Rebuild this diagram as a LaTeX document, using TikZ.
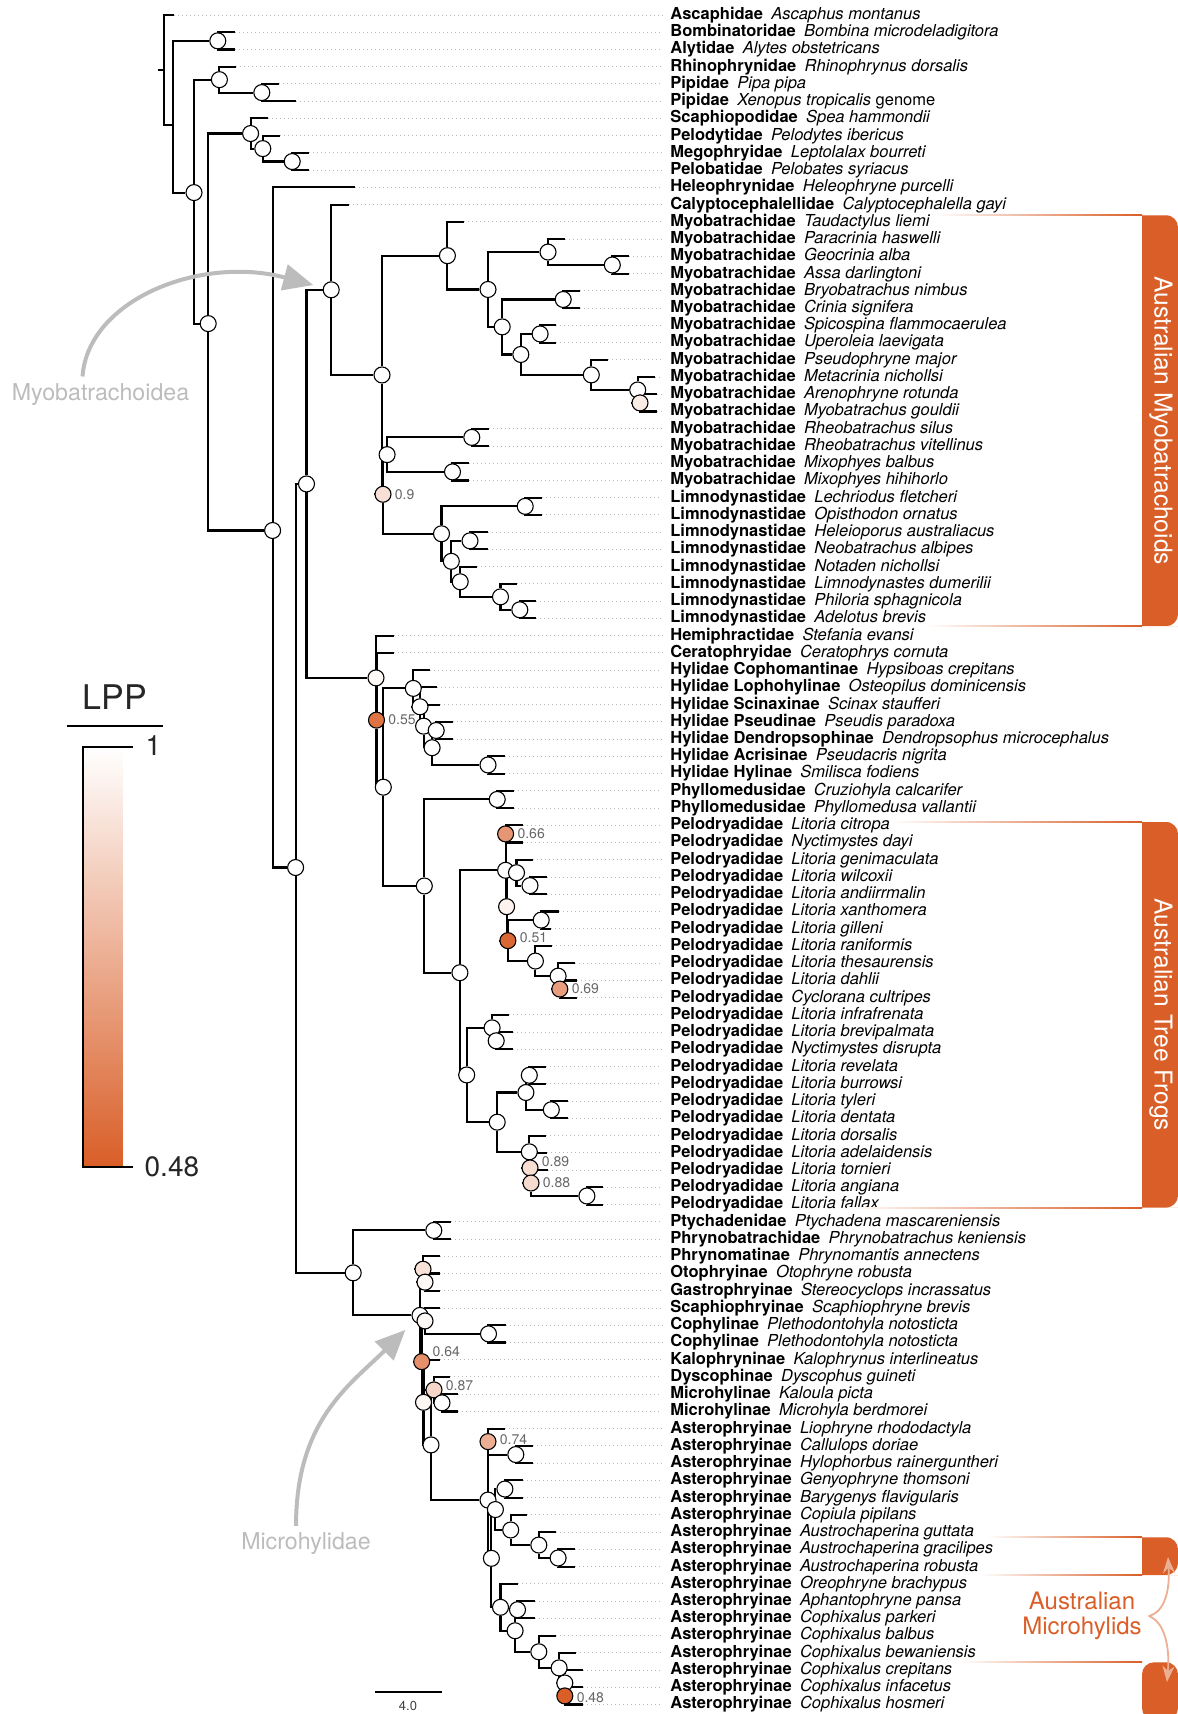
\documentclass[tikz,border=0pt]{standalone}
\usepackage{fontspec}
\setmainfont{TeX Gyre Heros}
\usetikzlibrary{positioning, backgrounds, arrows.meta}
\definecolor{lppc}{RGB}{217,94,39}
\definecolor{anngray}{RGB}{188,188,188}

\begin{document}
\begin{tikzpicture}[x=0.5pt, y=-0.5pt,
	bnode/.style={draw, circle, fill=white, inner sep=0pt, minimum size=8pt, line width=0.55pt},
	branch/.style={line width=1.05pt},
	taxon/.style={anchor=west, inner xsep=4pt, inner ysep=0pt, text height=6pt, text depth=1.6pt, font=\fontsize{8.25}{9}\selectfont},
	leader/.style={draw=black!28, line width=0.5pt, dash pattern=on 0.5pt off 1.5pt},
	lppnum/.style={inner sep=0.5pt, text=black!60, font=\fontsize{7}{8}\selectfont},
	callout/.style={draw=anngray, line width=2pt, -{Triangle[length=15pt,width=13pt]}},
	bracearrow/.style={draw=lppc!50!white, line width=0.9pt, -{Stealth[length=8pt,width=6pt]}},
	grouplab/.style={text=white, font=\fontsize{12.3}{14}\selectfont}]
	\useasboundingbox (0,0) rectangle (1178,1714);

	\begin{scope}[y=-8.62pt, yshift=1.12pt]
	\coordinate (e1) at (173.7,1); \node[taxon] (t1) at (662,1) {\textbf{Ascaphidae}\enspace\textit{Ascaphus montanus}};
	\coordinate (e2) at (235.3,2); \node[taxon] (t2) at (662,2) {\textbf{Bombinatoridae}\enspace\textit{Bombina microdeladigitora}};
	\coordinate (e3) at (235.3,3); \node[taxon] (t3) at (662,3) {\textbf{Alytidae}\enspace\textit{Alytes obstetricans}};
	\coordinate (e4) at (236.4,4); \node[taxon] (t4) at (662,4) {\textbf{Rhinophrynidae}\enspace\textit{Rhinophrynus dorsalis}};
	\coordinate (e5) at (278.7,5); \node[taxon] (t5) at (662,5) {\textbf{Pipidae}\enspace\textit{Pipa pipa}};
	\coordinate (e6) at (295.6,6); \node[taxon] (t6) at (662,6) {\textbf{Pipidae}\enspace\textit{Xenopus tropicalis} genome};
	\coordinate (e7) at (267.9,7); \node[taxon] (t7) at (662,7) {\textbf{Scaphiopodidae}\enspace\textit{Spea hammondii}};
	\coordinate (e8) at (279.7,8); \node[taxon] (t8) at (662,8) {\textbf{Pelodytidae}\enspace\textit{Pelodytes ibericus}};
	\coordinate (e9) at (309.2,9); \node[taxon] (t9) at (662,9) {\textbf{Megophryidae}\enspace\textit{Leptolalax bourreti}};
	\coordinate (e10) at (309.2,10); \node[taxon] (t10) at (662,10) {\textbf{Pelobatidae}\enspace\textit{Pelobates syriacus}};
	\coordinate (e11) at (354.9,11); \node[taxon] (t11) at (662,11) {\textbf{Heleophrynidae}\enspace\textit{Heleophryne purcelli}};
	\coordinate (e12) at (349.1,12); \node[taxon] (t12) at (662,12) {\textbf{Calyptocephalellidae}\enspace\textit{Calyptocephalella gayi}};
	\coordinate (e13) at (464.2,13); \node[taxon] (t13) at (662,13) {\textbf{Myobatrachidae}\enspace\textit{Taudactylus liemi}};
	\coordinate (e14) at (564.8,14); \node[taxon] (t14) at (662,14) {\textbf{Myobatrachidae}\enspace\textit{Paracrinia haswelli}};
	\coordinate (e15) at (629.2,15); \node[taxon] (t15) at (662,15) {\textbf{Myobatrachidae}\enspace\textit{Geocrinia alba}};
	\coordinate (e16) at (629.2,16); \node[taxon] (t16) at (662,16) {\textbf{Myobatrachidae}\enspace\textit{Assa darlingtoni}};
	\coordinate (e17) at (580.1,17); \node[taxon] (t17) at (662,17) {\textbf{Myobatrachidae}\enspace\textit{Bryobatrachus nimbus}};
	\coordinate (e18) at (580.1,18); \node[taxon] (t18) at (662,18) {\textbf{Myobatrachidae}\enspace\textit{Crinia signifera}};
	\coordinate (e19) at (556.4,19); \node[taxon] (t19) at (662,19) {\textbf{Myobatrachidae}\enspace\textit{Spicospina flammocaerulea}};
	\coordinate (e20) at (556.4,20); \node[taxon] (t20) at (662,20) {\textbf{Myobatrachidae}\enspace\textit{Uperoleia laevigata}};
	\coordinate (e21) at (607.9,21); \node[taxon] (t21) at (662,21) {\textbf{Myobatrachidae}\enspace\textit{Pseudophryne major}};
	\coordinate (e22) at (655.3,22); \node[taxon] (t22) at (662,22) {\textbf{Myobatrachidae}\enspace\textit{Metacrinia nichollsi}};
	\coordinate (e23) at (657.3,23); \node[taxon] (t23) at (662,23) {\textbf{Myobatrachidae}\enspace\textit{Arenophryne rotunda}};
	\coordinate (e24) at (657.3,24); \node[taxon] (t24) at (662,24) {\textbf{Myobatrachidae}\enspace\textit{Myobatrachus gouldii}};
	\coordinate (e25) at (488.6,25); \node[taxon] (t25) at (662,25) {\textbf{Myobatrachidae}\enspace\textit{Rheobatrachus silus}};
	\coordinate (e26) at (488.6,26); \node[taxon] (t26) at (662,26) {\textbf{Myobatrachidae}\enspace\textit{Rheobatrachus vitellinus}};
	\coordinate (e27) at (469.2,27); \node[taxon] (t27) at (662,27) {\textbf{Myobatrachidae}\enspace\textit{Mixophyes balbus}};
	\coordinate (e28) at (469.2,28); \node[taxon] (t28) at (662,28) {\textbf{Myobatrachidae}\enspace\textit{Mixophyes hihihorlo}};
	\coordinate (e29) at (542.2,29); \node[taxon] (t29) at (662,29) {\textbf{Limnodynastidae}\enspace\textit{Lechriodus fletcheri}};
	\coordinate (e30) at (542.2,30); \node[taxon] (t30) at (662,30) {\textbf{Limnodynastidae}\enspace\textit{Opisthodon ornatus}};
	\coordinate (e31) at (488,31); \node[taxon] (t31) at (662,31) {\textbf{Limnodynastidae}\enspace\textit{Heleioporus australiacus}};
	\coordinate (e32) at (488,32); \node[taxon] (t32) at (662,32) {\textbf{Limnodynastidae}\enspace\textit{Neobatrachus albipes}};
	\coordinate (e33) at (476.9,33); \node[taxon] (t33) at (662,33) {\textbf{Limnodynastidae}\enspace\textit{Notaden nichollsi}};
	\coordinate (e34) at (516.8,34); \node[taxon] (t34) at (662,34) {\textbf{Limnodynastidae}\enspace\textit{Limnodynastes dumerilii}};
	\coordinate (e35) at (536.1,35); \node[taxon] (t35) at (662,35) {\textbf{Limnodynastidae}\enspace\textit{Philoria sphagnicola}};
	\coordinate (e36) at (536.1,36); \node[taxon] (t36) at (662,36) {\textbf{Limnodynastidae}\enspace\textit{Adelotus brevis}};
	\coordinate (e37) at (393.8,37); \node[taxon] (t37) at (662,37) {\textbf{Hemiphractidae}\enspace\textit{Stefania evansi}};
	\coordinate (e38) at (393.8,38); \node[taxon] (t38) at (662,38) {\textbf{Ceratophryidae}\enspace\textit{Ceratophrys cornuta}};
	\coordinate (e39) at (430.2,39); \node[taxon] (t39) at (662,39) {\textbf{Hylidae Cophomantinae}\enspace\textit{Hypsiboas crepitans}};
	\coordinate (e40) at (437,40); \node[taxon] (t40) at (662,40) {\textbf{Hylidae Lophohylinae}\enspace\textit{Osteopilus dominicensis}};
	\coordinate (e41) at (439.6,41); \node[taxon] (t41) at (662,41) {\textbf{Hylidae Scinaxinae}\enspace\textit{Scinax staufferi}};
	\coordinate (e42) at (452.5,42); \node[taxon] (t42) at (662,42) {\textbf{Hylidae Pseudinae}\enspace\textit{Pseudis paradoxa}};
	\coordinate (e43) at (452.5,43); \node[taxon] (t43) at (662,43) {\textbf{Hylidae Dendropsophinae}\enspace\textit{Dendropsophus microcephalus}};
	\coordinate (e44) at (504.9,44); \node[taxon] (t44) at (662,44) {\textbf{Hylidae Acrisinae}\enspace\textit{Pseudacris nigrita}};
	\coordinate (e45) at (504.9,45); \node[taxon] (t45) at (662,45) {\textbf{Hylidae Hylinae}\enspace\textit{Smilisca fodiens}};
	\coordinate (e46) at (514,46); \node[taxon] (t46) at (662,46) {\textbf{Phyllomedusidae}\enspace\textit{Cruziohyla calcarifer}};
	\coordinate (e47) at (514,47); \node[taxon] (t47) at (662,47) {\textbf{Phyllomedusidae}\enspace\textit{Phyllomedusa vallantii}};
	\coordinate (e48) at (523.2,48); \node[taxon] (t48) at (662,48) {\textbf{Pelodryadidae}\enspace\textit{Litoria citropa}};
	\coordinate (e49) at (523.2,49); \node[taxon] (t49) at (662,49) {\textbf{Pelodryadidae}\enspace\textit{Nyctimystes dayi}};
	\coordinate (e50) at (532.7,50); \node[taxon] (t50) at (662,50) {\textbf{Pelodryadidae}\enspace\textit{Litoria genimaculata}};
	\coordinate (e51) at (546.9,51); \node[taxon] (t51) at (662,51) {\textbf{Pelodryadidae}\enspace\textit{Litoria wilcoxii}};
	\coordinate (e52) at (546.9,52); \node[taxon] (t52) at (662,52) {\textbf{Pelodryadidae}\enspace\textit{Litoria andiirrmalin}};
	\coordinate (e53) at (558.9,53); \node[taxon] (t53) at (662,53) {\textbf{Pelodryadidae}\enspace\textit{Litoria xanthomera}};
	\coordinate (e54) at (551,54); \node[taxon] (t54) at (662,54) {\textbf{Pelodryadidae}\enspace\textit{Litoria gilleni}};
	\coordinate (e55) at (552.3,55); \node[taxon] (t55) at (662,55) {\textbf{Pelodryadidae}\enspace\textit{Litoria raniformis}};
	\coordinate (e56) at (575,56); \node[taxon] (t56) at (662,56) {\textbf{Pelodryadidae}\enspace\textit{Litoria thesaurensis}};
	\coordinate (e57) at (576.6,57); \node[taxon] (t57) at (662,57) {\textbf{Pelodryadidae}\enspace\textit{Litoria dahlii}};
	\coordinate (e58) at (576.6,58); \node[taxon] (t58) at (662,58) {\textbf{Pelodryadidae}\enspace\textit{Cyclorana cultripes}};
	\coordinate (e59) at (509,59); \node[taxon] (t59) at (662,59) {\textbf{Pelodryadidae}\enspace\textit{Litoria infrafrenata}};
	\coordinate (e60) at (513.1,60); \node[taxon] (t60) at (662,60) {\textbf{Pelodryadidae}\enspace\textit{Litoria brevipalmata}};
	\coordinate (e61) at (513.1,61); \node[taxon] (t61) at (662,61) {\textbf{Pelodryadidae}\enspace\textit{Nyctimystes disrupta}};
	\coordinate (e62) at (546.2,62); \node[taxon] (t62) at (662,62) {\textbf{Pelodryadidae}\enspace\textit{Litoria revelata}};
	\coordinate (e63) at (546.2,63); \node[taxon] (t63) at (662,63) {\textbf{Pelodryadidae}\enspace\textit{Litoria burrowsi}};
	\coordinate (e64) at (568.3,64); \node[taxon] (t64) at (662,64) {\textbf{Pelodryadidae}\enspace\textit{Litoria tyleri}};
	\coordinate (e65) at (568.3,65); \node[taxon] (t65) at (662,65) {\textbf{Pelodryadidae}\enspace\textit{Litoria dentata}};
	\coordinate (e66) at (546.2,66); \node[taxon] (t66) at (662,66) {\textbf{Pelodryadidae}\enspace\textit{Litoria dorsalis}};
	\coordinate (e67) at (546.9,67); \node[taxon] (t67) at (662,67) {\textbf{Pelodryadidae}\enspace\textit{Litoria adelaidensis}};
	\coordinate (e68) at (548,68); \node[taxon] (t68) at (662,68) {\textbf{Pelodryadidae}\enspace\textit{Litoria tornieri}};
	\coordinate (e69) at (603.1,69); \node[taxon] (t69) at (662,69) {\textbf{Pelodryadidae}\enspace\textit{Litoria angiana}};
	\coordinate (e70) at (603.1,70); \node[taxon] (t70) at (662,70) {\textbf{Pelodryadidae}\enspace\textit{Litoria fallax}};
	\coordinate (e71) at (450.7,71); \node[taxon] (t71) at (662,71) {\textbf{Ptychadenidae}\enspace\textit{Ptychadena mascareniensis}};
	\coordinate (e72) at (450.7,72); \node[taxon] (t72) at (662,72) {\textbf{Phrynobatrachidae}\enspace\textit{Phrynobatrachus keniensis}};
	\coordinate (e73) at (440,73); \node[taxon] (t73) at (662,73) {\textbf{Phrynomatinae}\enspace\textit{Phrynomantis annectens}};
	\coordinate (e74) at (440,74); \node[taxon] (t74) at (662,74) {\textbf{Otophryinae}\enspace\textit{Otophryne robusta}};
	\coordinate (e75) at (440,75); \node[taxon] (t75) at (662,75) {\textbf{Gastrophryinae}\enspace\textit{Stereocyclops incrassatus}};
	\coordinate (e76) at (440,76); \node[taxon] (t76) at (662,76) {\textbf{Scaphiophryinae}\enspace\textit{Scaphiophryne brevis}};
	\coordinate (e77) at (505.6,77); \node[taxon] (t77) at (662,77) {\textbf{Cophylinae}\enspace\textit{Plethodontohyla notosticta}};
	\coordinate (e78) at (505.6,78); \node[taxon] (t78) at (662,78) {\textbf{Cophylinae}\enspace\textit{Plethodontohyla notosticta}};
	\coordinate (e79) at (440,79); \node[taxon] (t79) at (662,79) {\textbf{Kalophryninae}\enspace\textit{Kalophrynus interlineatus}};
	\coordinate (e80) at (450,80); \node[taxon] (t80) at (662,80) {\textbf{Dyscophinae}\enspace\textit{Dyscophus guineti}};
	\coordinate (e81) at (458,81); \node[taxon] (t81) at (662,81) {\textbf{Microhylinae}\enspace\textit{Kaloula picta}};
	\coordinate (e82) at (458,82); \node[taxon] (t82) at (662,82) {\textbf{Microhylinae}\enspace\textit{Microhyla berdmorei}};
	\coordinate (e83) at (504.9,83); \node[taxon] (t83) at (662,83) {\textbf{Asterophryinae}\enspace\textit{Liophryne rhododactyla}};
	\coordinate (e84) at (533.3,84); \node[taxon] (t84) at (662,84) {\textbf{Asterophryinae}\enspace\textit{Callulops doriae}};
	\coordinate (e85) at (533.3,85); \node[taxon] (t85) at (662,85) {\textbf{Asterophryinae}\enspace\textit{Hylophorbus rainerguntheri}};
	\coordinate (e86) at (522.7,86); \node[taxon] (t86) at (662,86) {\textbf{Asterophryinae}\enspace\textit{Genyophryne thomsoni}};
	\coordinate (e87) at (522.7,87); \node[taxon] (t87) at (662,87) {\textbf{Asterophryinae}\enspace\textit{Barygenys flavigularis}};
	\coordinate (e88) at (526.6,88); \node[taxon] (t88) at (662,88) {\textbf{Asterophryinae}\enspace\textit{Copiula pipilans}};
	\coordinate (e89) at (555.7,89); \node[taxon] (t89) at (662,89) {\textbf{Asterophryinae}\enspace\textit{Austrochaperina guttata}};
	\coordinate (e90) at (574.9,90); \node[taxon] (t90) at (662,90) {\textbf{Asterophryinae}\enspace\textit{Austrochaperina gracilipes}};
	\coordinate (e91) at (574.9,91); \node[taxon] (t91) at (662,91) {\textbf{Asterophryinae}\enspace\textit{Austrochaperina robusta}};
	\coordinate (e92) at (517.5,92); \node[taxon] (t92) at (662,92) {\textbf{Asterophryinae}\enspace\textit{Oreophryne brachypus}};
	\coordinate (e93) at (535.4,93); \node[taxon] (t93) at (662,93) {\textbf{Asterophryinae}\enspace\textit{Aphantophryne pansa}};
	\coordinate (e94) at (535.4,94); \node[taxon] (t94) at (662,94) {\textbf{Asterophryinae}\enspace\textit{Cophixalus parkeri}};
	\coordinate (e95) at (555.7,95); \node[taxon] (t95) at (662,95) {\textbf{Asterophryinae}\enspace\textit{Cophixalus balbus}};
	\coordinate (e96) at (576,96); \node[taxon] (t96) at (662,96) {\textbf{Asterophryinae}\enspace\textit{Cophixalus bewaniensis}};
	\coordinate (e97) at (582.8,97); \node[taxon] (t97) at (662,97) {\textbf{Asterophryinae}\enspace\textit{Cophixalus crepitans}};
	\coordinate (e98) at (582.8,98); \node[taxon] (t98) at (662,98) {\textbf{Asterophryinae}\enspace\textit{Cophixalus infacetus}};
	\coordinate (e99) at (582.8,99); \node[taxon] (t99) at (662,99) {\textbf{Asterophryinae}\enspace\textit{Cophixalus hosmeri}};

	\coordinate (stem) at (158,4.2);
	\coordinate (r0) at (164.2,4.2);
	\coordinate (n1) at (172.7,7.4);
	\node[bnode] (n2) at (217.8,2.5) {};
	\node[bnode] (n3) at (194,11.3) {};
	\node[bnode] (n4) at (219.4,4.75) {};
	\node[bnode] (n8) at (261.8,5.5) {};
	\node[bnode] (n5) at (208.2,18.9) {};
	\node[bnode] (n6) at (250.6,7.875) {};
	\node[bnode] (n9) at (262.8,8.75) {};
	\node[bnode] (n10) at (292.2,9.5) {};
	\node[bnode] (n7) at (272.6,30.9) {};
	\node[bnode] (nnb) at (295.6,50.45) {};
	\node[bnode] (np) at (306.5,28.2) {};
	\node[bnode] (nm) at (331.2,16.94) {};
	\node[bnode] (nmy) at (382,21.88) {};
	\node[bnode] (nmyo) at (447.4,14.96) {};
	\node[bnode] (nmb) at (488,16.92) {};
	\node[bnode] (nc) at (548,14.75) {};
	\node[bnode] (ne) at (612.3,15.5) {};
	\node[bnode] (nd) at (502.2,19.09) {};
	\node[bnode] (nf) at (563.2,17.5) {};
	\node[bnode] (ng) at (520.8,20.69) {};
	\node[bnode] (nh) at (540.1,19.5) {};
	\node[bnode] (ni) at (591.3,21.875) {};
	\node[bnode] (nj) at (637.7,22.75) {};
	\node[bnode, fill=lppc!12!white] (nk) at (640,23.5) {};
	\node[bnode, fill=lppc!19!white] (n09) at (383,28.8) {};
	\node[lppnum, right=1pt of n09] (l09) {0.9};
	\node[bnode] (nrm) at (387.1,26.5) {};
	\node[bnode] (nrheo) at (471.8,25.5) {};
	\node[bnode] (nmix) at (452.5,27.5) {};
	\node[bnode] (nlim) at (441.5,31.09) {};
	\node[bnode] (nlech) at (525.2,29.5) {};
	\node[bnode] (nl) at (451.3,32.69) {};
	\node[bnode] (nn) at (470,31.5) {};
	\node[bnode] (no) at (460.2,33.875) {};
	\node[bnode] (nq) at (500.5,34.75) {};
	\node[bnode] (nr) at (519.8,35.5) {};

	\node[bnode, fill=lppc!4!white] (nhyl) at (376,39.45) {};
	\node[bnode, fill=lppc!87!white] (n055) at (376.5,41.9) {};
	\node[lppnum, right=1pt of n055] (l055) {0.55};
	\node[bnode] (nhp) at (383.3,45.79) {};
	\node[bnode] (ha) at (413.3,40.06) {};
	\node[bnode] (hb) at (420,41.125) {};
	\node[bnode] (hc) at (423.6,42.25) {};
	\node[bnode] (he) at (432.1,43.5) {};
	\node[bnode] (hf) at (436.2,42.5) {};
	\node[bnode] (hg) at (488,44.5) {};
	\node[bnode] (hh) at (424.3,51.52) {};
	\node[bnode] (phyl) at (497.2,46.5) {};
	\node[bnode] (pelo) at (459.9,56.55) {};
	\node[bnode] (p1) at (505.6,50.61) {};
	\node[bnode, fill=lppc!65!white] (n066) at (505.6,48.5) {};
	\node[lppnum, right=1pt of n066] (l066) {0.66};
	\node[bnode, fill=lppc!8!white] (pq) at (506.6,52.72) {};
	\node[bnode] (pr) at (516.5,50.75) {};
	\node[bnode] (ps) at (530,51.5) {};
	\node[bnode, fill=lppc!94!white] (n051) at (507.9,54.69) {};
	\node[lppnum, right=1pt of n051, yshift=1.5pt] (l051) {0.51};
	\node[bnode] (pt) at (541.2,53.5) {};
	\node[bnode] (pu) at (535.4,55.875) {};
	\node[bnode] (pv) at (558.1,56.75) {};
	\node[bnode, fill=lppc!60!white] (n069) at (559.8,57.5) {};
	\node[lppnum, right=1pt of n069] (l069) {0.69};
	\node[bnode] (p2) at (466.7,62.48) {};
	\node[bnode] (pa) at (492.1,59.75) {};
	\node[bnode] (pc) at (496.2,60.5) {};
	\node[bnode] (pb) at (497.2,65.22) {};
	\node[bnode] (pd) at (525.9,63.5) {};
	\node[bnode] (pf) at (529.3,62.5) {};
	\node[bnode] (pg) at (551.3,64.5) {};
	\node[bnode] (pe) at (529.3,66.94) {};
	\node[bnode, fill=lppc!21!white] (n089) at (530,67.875) {};
	\node[lppnum, right=1pt of n089, yshift=3pt] (l089) {0.89};
	\node[bnode, fill=lppc!23!white] (n088) at (531,68.75) {};
	\node[lppnum, right=1pt of n088] (l088) {0.88};
	\node[bnode] (ph) at (586.9,69.5) {};

	\node[bnode] (nran) at (353.2,73.96) {};
	\node[bnode] (pp) at (433.8,71.5) {};
	\node[bnode] (ma) at (420,76.43) {};
	\node[bnode, fill=lppc!18!white] (pz) at (423,73.75) {};
	\node[bnode, fill=lppc!4!white] (wt) at (425,74.5) {};
	\node[bnode, fill=lppc!4!white] (mc) at (425,76.75) {};
	\node[bnode] (c1) at (488.5,77.5) {};
	\node[bnode, fill=lppc!69!white] (k64) at (421.7,79.11) {};
	\node[lppnum, right=0.5pt of k64, yshift=5pt] (l064) {0.64};
	\node[bnode, fill=lppc!5!white] (wk) at (423.5,81.47) {};
	\node[bnode] (my) at (431,83.94) {};
	\node[bnode, fill=lppc!25!white] (n087) at (434,80.75) {};
	\node[lppnum, right=1pt of n087, yshift=2pt] (l087) {0.87};
	\node[bnode] (mi) at (442,81.5) {};
	\node[bnode] (as) at (488,87.14) {};
	\node[bnode, fill=lppc!50!white] (n074) at (488,83.75) {};
	\node[lppnum, right=1pt of n074, yshift=1pt] (l074) {0.74};
	\node[bnode] (ab) at (515.8,84.5) {};
	\node[bnode] (as2) at (491.4,90.52) {};
	\node[bnode] (ac) at (495.4,87.69) {};
	\node[bnode] (ae) at (504.9,86.5) {};
	\node[bnode] (af) at (510.7,88.875) {};
	\node[bnode] (ag) at (538.8,89.75) {};
	\node[bnode] (ah) at (558.1,90.5) {};
	\node[bnode] (ad) at (500.5,93.36) {};
	\node[bnode] (ai) at (515.1,94.72) {};
	\node[bnode] (aj) at (517.5,93.5) {};
	\node[bnode] (ak) at (538.8,95.94) {};
	\node[bnode] (al) at (559.1,96.875) {};
	\node[bnode] (am) at (564.8,97.75) {};
	\node[bnode, fill=lppc!100!white] (n048) at (564.8,98.5) {};
	\node[lppnum, right=1pt of n048, yshift=-1pt] (l048) {0.48};
	\end{scope}

	\begin{pgfonlayer}{background}
	\draw[branch] (stem) -- (r0);
	\draw[branch] (r0) |- (e1) (r0) |- (n1);
	\draw[branch] (n1) |- (n2) (n1) |- (n3);
	\draw[branch] (n2) |- (e2) (n2) |- (e3);
	\draw[branch] (n3) |- (n4) (n3) |- (n5);
	\draw[branch] (n4) |- (e4) (n4) |- (n8);
	\draw[branch] (n8) |- (e5) (n8) |- (e6);
	\draw[branch] (n5) |- (n6) (n5) |- (n7);
	\draw[branch] (n6) |- (e7) (n6) |- (n9);
	\draw[branch] (n9) |- (e8) (n9) |- (n10);
	\draw[branch] (n10) |- (e9) (n10) |- (e10);
	\draw[branch] (n7) |- (e11) (n7) |- (nnb);
	\draw[branch] (nnb) |- (np) (nnb) |- (nran);
	\draw[branch] (np) |- (nm) (np) |- (nhyl);
	\draw[branch] (nm) |- (e12) (nm) |- (nmy);
	\draw[branch] (nmy) |- (nmyo) (nmy) |- (n09);
	\draw[branch] (nmyo) |- (e13) (nmyo) |- (nmb);
	\draw[branch] (nmb) |- (nc) (nmb) |- (nd);
	\draw[branch] (nc) |- (e14) (nc) |- (ne);
	\draw[branch] (ne) |- (e15) (ne) |- (e16);
	\draw[branch] (nd) |- (nf) (nd) |- (ng);
	\draw[branch] (nf) |- (e17) (nf) |- (e18);
	\draw[branch] (ng) |- (nh) (ng) |- (ni);
	\draw[branch] (nh) |- (e19) (nh) |- (e20);
	\draw[branch] (ni) |- (e21) (ni) |- (nj);
	\draw[branch] (nj) |- (e22) (nj) |- (nk);
	\draw[branch] (nk) |- (e23) (nk) |- (e24);
	\draw[branch] (n09) |- (nrm) (n09) |- (nlim);
	\draw[branch] (nrm) |- (nrheo) (nrm) |- (nmix);
	\draw[branch] (nrheo) |- (e25) (nrheo) |- (e26);
	\draw[branch] (nmix) |- (e27) (nmix) |- (e28);
	\draw[branch] (nlim) |- (nlech) (nlim) |- (nl);
	\draw[branch] (nlech) |- (e29) (nlech) |- (e30);
	\draw[branch] (nl) |- (nn) (nl) |- (no);
	\draw[branch] (nn) |- (e31) (nn) |- (e32);
	\draw[branch] (no) |- (e33) (no) |- (nq);
	\draw[branch] (nq) |- (e34) (nq) |- (nr);
	\draw[branch] (nr) |- (e35) (nr) |- (e36);
	\draw[branch] (nhyl) |- (e37) (nhyl) |- (n055);
	\draw[branch] (n055) |- (e38) (n055) |- (nhp);
	\draw[branch] (nhp) |- (ha) (nhp) |- (hh);
	\draw[branch] (ha) |- (e39) (ha) |- (hb);
	\draw[branch] (hb) |- (e40) (hb) |- (hc);
	\draw[branch] (hc) |- (e41) (hc) |- (he);
	\draw[branch] (he) |- (hf) (he) |- (hg);
	\draw[branch] (hf) |- (e42) (hf) |- (e43);
	\draw[branch] (hg) |- (e44) (hg) |- (e45);
	\draw[branch] (hh) |- (phyl) (hh) |- (pelo);
	\draw[branch] (phyl) |- (e46) (phyl) |- (e47);
	\draw[branch] (pelo) |- (p1) (pelo) |- (p2);
	\draw[branch] (p1) |- (n066) (p1) |- (pq);
	\draw[branch] (n066) |- (e48) (n066) |- (e49);
	\draw[branch] (pq) |- (pr) (pq) |- (n051);
	\draw[branch] (pr) |- (e50) (pr) |- (ps);
	\draw[branch] (ps) |- (e51) (ps) |- (e52);
	\draw[branch] (n051) |- (pt) (n051) |- (pu);
	\draw[branch] (pt) |- (e53) (pt) |- (e54);
	\draw[branch] (pu) |- (e55) (pu) |- (pv);
	\draw[branch] (pv) |- (e56) (pv) |- (n069);
	\draw[branch] (n069) |- (e57) (n069) |- (e58);
	\draw[branch] (p2) |- (pa) (p2) |- (pb);
	\draw[branch] (pa) |- (e59) (pa) |- (pc);
	\draw[branch] (pc) |- (e60) (pc) |- (e61);
	\draw[branch] (pb) |- (pd) (pb) |- (pe);
	\draw[branch] (pd) |- (pf) (pd) |- (pg);
	\draw[branch] (pf) |- (e62) (pf) |- (e63);
	\draw[branch] (pg) |- (e64) (pg) |- (e65);
	\draw[branch] (pe) |- (e66) (pe) |- (n089);
	\draw[branch] (n089) |- (e67) (n089) |- (n088);
	\draw[branch] (n088) |- (e68) (n088) |- (ph);
	\draw[branch] (ph) |- (e69) (ph) |- (e70);
	\draw[branch] (nran) |- (pp) (nran) |- (ma);
	\draw[branch] (pp) |- (e71) (pp) |- (e72);
	\draw[branch] (ma) |- (pz) (ma) |- (k64);
	\draw[branch] (pz) |- (e73) (pz) |- (wt);
	\draw[branch] (wt) |- (e74) (wt) |- (e75);
	\draw[branch] (k64) |- (mc) (k64) |- (wk);
	\draw[branch] (mc) |- (e76) (mc) |- (c1);
	\draw[branch] (c1) |- (e77) (c1) |- (e78);
	\draw[branch] (wk) |- (e79) (wk) |- (my);
	\draw[branch] (my) |- (n087) (my) |- (as);
	\draw[branch] (n087) |- (e80) (n087) |- (mi);
	\draw[branch] (mi) |- (e81) (mi) |- (e82);
	\draw[branch] (as) |- (n074) (as) |- (as2);
	\draw[branch] (n074) |- (e83) (n074) |- (ab);
	\draw[branch] (ab) |- (e84) (ab) |- (e85);
	\draw[branch] (as2) |- (ac) (as2) |- (ad);
	\draw[branch] (ac) |- (ae) (ac) |- (af);
	\draw[branch] (ae) |- (e86) (ae) |- (e87);
	\draw[branch] (af) |- (e88) (af) |- (ag);
	\draw[branch] (ag) |- (e89) (ag) |- (ah);
	\draw[branch] (ah) |- (e90) (ah) |- (e91);
	\draw[branch] (ad) |- (e92) (ad) |- (ai);
	\draw[branch] (ai) |- (aj) (ai) |- (ak);
	\draw[branch] (aj) |- (e93) (aj) |- (e94);
	\draw[branch] (ak) |- (e95) (ak) |- (al);
	\draw[branch] (al) |- (e96) (al) |- (am);
	\draw[branch] (am) |- (e97) (am) |- (n048);
	\draw[branch] (n048) |- (e98) (n048) |- (e99);

	\draw[leader] (e1) -- (t1) (e2) -- (t2) (e3) -- (t3) (e4) -- (t4) (e5) -- (t5) (e6) -- (t6) (e7) -- (t7) (e8) -- (t8) (e9) -- (t9) (e10) -- (t10);
	\draw[leader] (e11) -- (t11) (e12) -- (t12) (e13) -- (t13) (e14) -- (t14) (e15) -- (t15) (e16) -- (t16) (e17) -- (t17) (e18) -- (t18) (e19) -- (t19) (e20) -- (t20);
	\draw[leader] (e21) -- (t21) (e22) -- (t22) (e23) -- (t23) (e24) -- (t24) (e25) -- (t25) (e26) -- (t26) (e27) -- (t27) (e28) -- (t28) (e29) -- (t29) (e30) -- (t30);
	\draw[leader] (e31) -- (t31) (e32) -- (t32) (e33) -- (t33) (e34) -- (t34) (e35) -- (t35) (e36) -- (t36) (e37) -- (t37) (e38) -- (t38) (e39) -- (t39) (e40) -- (t40);
	\draw[leader] (e41) -- (t41) (e42) -- (t42) (e43) -- (t43) (e44) -- (t44) (e45) -- (t45) (e46) -- (t46) (e47) -- (t47) (e48) -- (t48) (e49) -- (t49) (e50) -- (t50);
	\draw[leader] (e51) -- (t51) (e52) -- (t52) (e53) -- (t53) (e54) -- (t54) (e55) -- (t55) (e56) -- (t56) (e57) -- (t57) (e58) -- (t58) (e59) -- (t59) (e60) -- (t60);
	\draw[leader] (e61) -- (t61) (e62) -- (t62) (e63) -- (t63) (e64) -- (t64) (e65) -- (t65) (e66) -- (t66) (e67) -- (t67) (e68) -- (t68) (e69) -- (t69) (e70) -- (t70);
	\draw[leader] (e71) -- (t71) (e72) -- (t72) (e73) -- (t73) (e74) -- (t74) (e75) -- (t75) (e76) -- (t76) (e77) -- (t77) (e78) -- (t78) (e79) -- (t79) (e80) -- (t80);
	\draw[leader] (e81) -- (t81) (e82) -- (t82) (e83) -- (t83) (e84) -- (t84) (e85) -- (t85) (e86) -- (t86) (e87) -- (t87) (e88) -- (t88) (e89) -- (t89) (e90) -- (t90);
	\draw[leader] (e91) -- (t91) (e92) -- (t92) (e93) -- (t93) (e94) -- (t94) (e95) -- (t95) (e96) -- (t96) (e97) -- (t97) (e98) -- (t98) (e99) -- (t99);
	\end{pgfonlayer}

	\node[font=\fontsize{11.6}{13}\selectfont, text=anngray] (myolab) at (100.5,394.5) {Myobatrachoidea};
	\draw[callout, shorten >=5pt] ([xshift=-9pt]myolab.north) .. controls (88,300) and (200,255) .. (nm);
	\node[font=\fontsize{11.6}{13}\selectfont, text=anngray] (mhylab) at (306,1544) {Microhylidae};
	\draw[callout, shorten >=6pt] ([xshift=-5pt]mhylab.north) .. controls (296,1420) and (350,1385) .. (ma);

	\node[font=\fontsize{17}{20}\selectfont, text=black!85] (lpp) at (115,697) {LPP};
	\draw[line width=1pt] (66.7,725.7) -- (162.7,725.7);
	\shade[top color=white, bottom color=lppc] (84,747.3) rectangle (122.7,1167.3);
	\draw[line width=1pt] (133.3,747.3) -- (83.3,747.3) -- (83.3,1167.3) -- (133.3,1167.3);
	\node[font=\fontsize{14}{16}\selectfont, anchor=west, text=black!85] (lpphi) at (138.5,746) {1};
	\node[font=\fontsize{14}{16}\selectfont, anchor=west, text=black!85] (lpplo) at (137.6,1166.7) {0.48};

	\coordinate (sb1) at (374.5,1691.7);
	\coordinate (sb2) at (441.9,1691.7);
	\draw[line width=0.8pt] (sb1) -- (sb2);
	\node[font=\fontsize{6.5}{7}\selectfont, text=black!75] (sblab) at (408,1706) {4.0};

	\fill[lppc] (1142,215.3) -- (1170,215.3) [rounded corners=6pt] -- (1178,215.3) -- (1178,626.2) -- (1170,626.2) [sharp corners] -- (1142,626.2) -- cycle;
	\shade[left color=white, right color=lppc] (934,214.8) rectangle (1142,215.8);
	\shade[left color=white, right color=lppc] (927,625.7) rectangle (1142,626.7);
	\node[grouplab, rotate=-90] (amyo) at (1161,420.7) {Australian Myobatrachoids};

	\fill[lppc] (1142,822) -- (1170,822) [rounded corners=6pt] -- (1178,822) -- (1178,1207.5) -- (1170,1207.5) [sharp corners] -- (1142,1207.5) -- cycle;
	\shade[left color=white, right color=lppc] (890,821.5) rectangle (1142,822.5);
	\shade[left color=white, right color=lppc] (847,1207) rectangle (1142,1208);
	\node[grouplab, rotate=-90] (atree) at (1161,1014.7) {Australian Tree Frogs};

	\fill[lppc] (1142,1537.3) -- (1170,1537.3) [rounded corners=6pt] -- (1178,1537.3) -- (1178,1575) -- (1170,1575) [sharp corners] -- (1142,1575) -- cycle;
	\shade[left color=white, right color=lppc] (987,1536.8) rectangle (1142,1537.8);
	\shade[left color=white, right color=lppc] (980,1574.5) rectangle (1142,1575.5);
	\fill[lppc] (1142,1662.3) -- (1170,1662.3) [rounded corners=6pt] -- (1178,1662.3) -- (1178,1720) -- (1142,1720) -- cycle;
	\shade[left color=white, right color=lppc] (960,1661.8) rectangle (1142,1662.8);
	\node[text=lppc, align=center, font=\fontsize{12}{12.5}\selectfont] (amic) at (1082,1616) {Australian\\Microhylids};
	\coordinate (amtop) at (1168,1557);
	\coordinate (ambot) at (1167,1682);
	\draw[bracearrow] (amic.east) .. controls (1165,1612) and (1170,1590) .. (amtop);
	\draw[bracearrow] (amic.east) .. controls (1165,1622) and (1170,1648) .. (ambot);
\end{tikzpicture}
\end{document}
